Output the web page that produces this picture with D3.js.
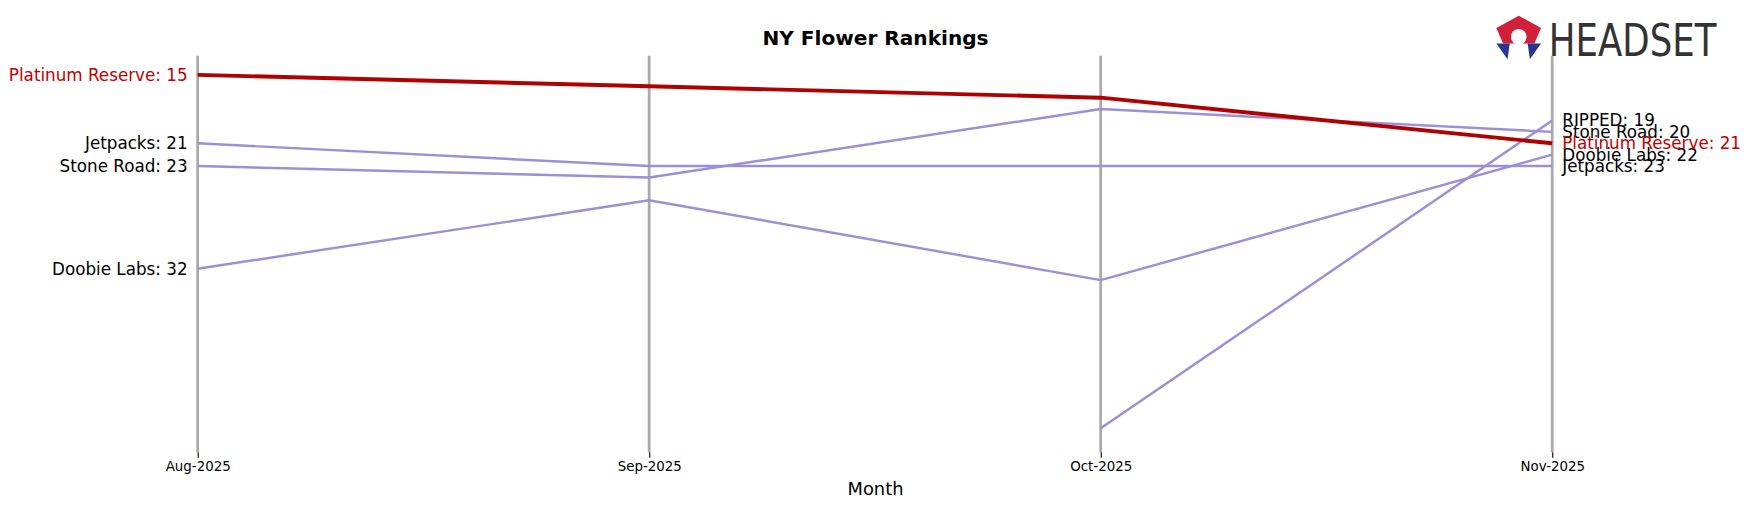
<!DOCTYPE html><html><head><script src="https://cdn.jsdelivr.net/npm/d3@7"></script>
<style>body{margin:0;background:#fff}text{font-family:"DejaVu Sans",sans-serif}</style></head><body><svg id="c" width="1751" height="507"></svg>
<script>
const months=["Aug-2025","Sep-2025","Oct-2025","Nov-2025"];
const platinum=[15,16,17,21];
const jetpacks=[21,23,23,23];
const stoneRoad=[23,24,18,20];
const doobie=[32,26,33,22];
const ripped=[null,null,46,19];
const series=[
 {name:"Jetpacks",v:jetpacks},{name:"Stone Road",v:stoneRoad},{name:"Doobie Labs",v:doobie},{name:"RIPPED",v:ripped},
 {name:"Platinum Reserve",v:platinum,hl:true}];
const svg=d3.select("#c").append("g").attr("transform","scale(1.1167)");
const x=d3.scalePoint().domain(months).range([177,1390]);
const y=d3.scaleLinear().domain([13.33,48.1]).range([50,405]);
months.forEach(m=>svg.append("line").attr("x1",x(m)).attr("x2",x(m)).attr("y1",50).attr("y2",405).attr("stroke","#aaa").attr("stroke-width",2.5));
const ax=svg.append("g").attr("transform","translate(0,405)").call(d3.axisBottom(x).tickSize(5));
ax.select(".domain").remove();ax.selectAll("text").attr("font-size",12).attr("font-family","DejaVu Sans");
const line=d3.line().defined(d=>d.r!=null).x(d=>x(d.m)).y(d=>y(d.r));
series.forEach(s=>{
 const pts=months.map((m,i)=>({m,r:s.v[i]}));
 svg.append("path").attr("d",line(pts)).attr("fill","none").attr("stroke",s.hl?"#b00000":"#9b8fd8").attr("stroke-width",s.hl?3.5:2.2);
 const f=pts.find(p=>p.r!=null);
 if(f.m===months[0]) svg.append("text").attr("x",x(f.m)-9).attr("y",y(f.r)).attr("dy","0.35em").attr("text-anchor","end").attr("font-size",15).attr("fill",s.hl?"#c00000":"#000").text(`${s.name}: ${f.r}`);
 const l=pts[3];
 svg.append("text").attr("x",x(l.m)+9).attr("y",y(l.r)).attr("dy","0.35em").attr("font-size",15).attr("fill",s.hl?"#c00000":"#000").text(`${s.name}: ${l.r}`);
});
svg.append("text").attr("x",784).attr("y",40).attr("text-anchor","middle").attr("font-size",18).attr("font-weight","bold").text("NY Flower Rankings");
svg.append("text").attr("x",784).attr("y",443).attr("text-anchor","middle").attr("font-size",16).text("Month");
const g=svg.append("g").attr("transform","translate(1360,33)");
g.append("polygon").attr("points","-20,-8 0,-19 20,-8 14,6 -14,6").attr("fill","#d0203a");
g.append("polygon").attr("points","-20,6 -8,6 -10,20").attr("fill","#2a3590");
g.append("polygon").attr("points","20,6 8,6 10,20").attr("fill","#2a3590");
g.append("circle").attr("r",7).attr("fill","#fff");
svg.append("text").attr("x",1387).attr("y",50).attr("font-size",40).attr("font-family","Liberation Sans Narrow, DejaVu Sans Condensed, sans-serif").attr("fill","#333").attr("textLength",150).attr("lengthAdjust","spacingAndGlyphs").text("HEADSET");
</script></body></html>
